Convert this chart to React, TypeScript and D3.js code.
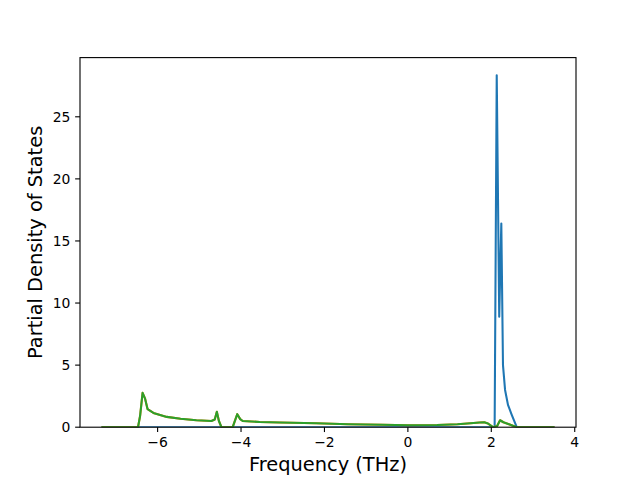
import React from "react";
import * as d3 from "d3";

// blue series (frequency, pdos)
const blueFreq = [-7.32, 2.08, 2.13, 2.19, 2.24, 2.28, 2.33, 2.4, 2.49, 2.61, 3.49];
const blueDos = [0, 0, 28.35, 8.9, 16.4, 5, 3, 1.8, 1, 0, 0];

// orange series sits right under the green one
const orangeFreq = [-7.32, -6.47, -6.42, -6.36, -6.3, -6.24, -6.1, -5.78, -5.45, -5.07, -4.71, -4.63, -4.58, -4.53, -4.47, -4.2, -4.09, -4.02, -3.96, -3.55, -3.07, -2.2, -1.43, -0.6, 0, 0.7, 1.19, 1.5, 1.72, 1.83, 1.92, 2.04, 2.14, 2.21, 2.29, 2.44, 2.61, 3.49];
const orangeDos = [0, 0, 0.9, 2.77, 2.3, 1.45, 1.15, 0.83, 0.68, 0.56, 0.5, 0.62, 1.24, 0.5, 0, 0, 1.05, 0.65, 0.5, 0.42, 0.38, 0.32, 0.24, 0.2, 0.16, 0.18, 0.24, 0.32, 0.38, 0.4, 0.3, 0, 0.1, 0.56, 0.4, 0.22, 0, 0];

const greenFreq = [-7.32, -6.47, -6.42, -6.36, -6.3, -6.24, -6.1, -5.78, -5.45, -5.07, -4.71, -4.63, -4.58, -4.53, -4.47, -4.2, -4.09, -4.02, -3.96, -3.55, -3.07, -2.2, -1.43, -0.6, 0, 0.7, 1.19, 1.5, 1.72, 1.83, 1.92, 2.04, 2.14, 2.21, 2.29, 2.44, 2.61, 3.49];
const greenDos = [0, 0, 0.9, 2.77, 2.3, 1.45, 1.15, 0.83, 0.68, 0.56, 0.5, 0.62, 1.24, 0.5, 0, 0, 1.05, 0.65, 0.5, 0.42, 0.38, 0.32, 0.24, 0.2, 0.16, 0.18, 0.24, 0.32, 0.38, 0.4, 0.3, 0, 0.1, 0.56, 0.4, 0.22, 0, 0];

const xTicks = [-6, -4, -2, 0, 2, 4];
const yTicks = [0, 5, 10, 15, 20, 25];

const series = [
  { f: blueFreq, d: blueDos, color: "#1f77b4" },
  { f: orangeFreq, d: orangeDos, color: "#ff7f0e" },
  { f: greenFreq, d: greenDos, color: "#2ca02c" },
];

const W = 640;
const H = 480;
const left = 80;
const right = 576;
const top = 57.6;
const bottom = 427.2;

const App = () => {
  const allF = series.flatMap((s) => s.f);
  const [fMin, fMax] = d3.extent(allF) as [number, number];
  const pad = (fMax - fMin) * 0.05;
  const yMax = (d3.max(series.flatMap((s) => s.d)) as number) * 1.05;

  const x = d3.scaleLinear().domain([fMin - pad, fMax + pad]).range([left, right]);
  const y = d3.scaleLinear().domain([0, yMax]).range([bottom, top]);

  const line = d3
    .line<[number, number]>()
    .x((p) => x(p[0]))
    .y((p) => y(p[1]));

  const fmt = (v: number) => (v < 0 ? "\u2212" + Math.abs(v) : String(v));
  const font = "'DejaVu Sans', sans-serif";

  return (
    <svg width={W} height={H} style={{ position: "absolute", left: 0, top: 0 }}>
      <rect width={W} height={H} fill="white" />
      <defs>
        <clipPath id="plot">
          <rect x={left} y={top} width={right - left} height={bottom - top} />
        </clipPath>
      </defs>
      <g clipPath="url(#plot)">
        {series.map((s, i) => (
          <path
            key={i}
            d={line(s.f.map((f, j) => [f, s.d[j]] as [number, number])) || ""}
            fill="none"
            stroke={s.color}
            strokeWidth={2.08}
            strokeLinejoin="round"
            strokeLinecap="square"
          />
        ))}
      </g>
      <rect x={left} y={top} width={right - left} height={bottom - top} fill="none" stroke="black" strokeWidth={1.11} />
      {xTicks.map((t) => (
        <g key={t} transform={`translate(${x(t)},${bottom})`}>
          <line y2={4.86} stroke="black" strokeWidth={1.11} />
          <text y={19.5} textAnchor="middle" fontFamily={font} fontSize={13.9} fill="black">
            {fmt(t)}
          </text>
        </g>
      ))}
      {yTicks.map((t) => (
        <g key={t} transform={`translate(${left},${y(t)})`}>
          <line x2={-4.86} stroke="black" strokeWidth={1.11} />
          <text x={-9.7} dy="0.35em" textAnchor="end" fontFamily={font} fontSize={13.9} fill="black">
            {fmt(t)}
          </text>
        </g>
      ))}
      <text x={(left + right) / 2} y={471} textAnchor="middle" fontFamily={font} fontSize={19.4} fill="black">
        Frequency (THz)
      </text>
      <text
        transform={`translate(42,${(top + bottom) / 2}) rotate(-90)`}
        textAnchor="middle"
        fontFamily={font}
        fontSize={19.4}
        fill="black"
      >
        Partial Density of States
      </text>
    </svg>
  );
};

export default App;
